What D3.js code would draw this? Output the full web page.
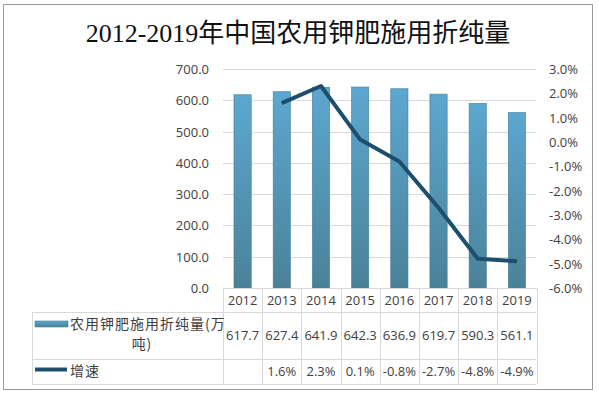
<!DOCTYPE html>
<html lang="zh">
<head>
    <meta charset="UTF-8">
    <title>2012-2019年中国农用钾肥施用折纯量</title>
    <script src="https://d3js.org/d3.v7.min.js"></script>
    <style>
        body {
            margin: 0;
            background-color: #fff;
        }
        .tick-label {
            font-family: "Open Sans", "Noto Sans", sans-serif;
            font-size: 13px;
            fill: #404040;
        }
        .cjk {
            font-family: "Noto Sans CJK SC", sans-serif;
            font-size: 14px;
            fill: #404040;
            letter-spacing: 1px;
        }
    </style>
</head>
<body>
    <div id="chart"></div>

    <script>
        const years = ['2012', '2013', '2014', '2015', '2016', '2017', '2018', '2019'];
        const amounts = [617.7, 627.4, 641.9, 642.3, 636.9, 619.7, 590.3, 561.1];
        const growth = [null, 0.016, 0.023, 0.001, -0.008, -0.027, -0.048, -0.049];
        const leftTicks = [0, 100, 200, 300, 400, 500, 600, 700];
        const rightTicks = [-0.06, -0.05, -0.04, -0.03, -0.02, -0.01, 0, 0.01, 0.02, 0.03];
        const barName = ['农用钾肥施用折纯量(万', '吨)'];
        const lineName = '增速';

        const width = 599, height = 394;
        const plotLeft = 223, plotRight = 536.5, plotTop = 69, plotBottom = 288;
        const tableLeft = 32;
        const rowLines = [312, 359, 384];
        const lineColor = '#1d4f6d';
        const gridColor = '#d9d9d9';

        // plain hyphen for negatives, like the original
        const locale = d3.formatLocale({ decimal: '.', thousands: ',', grouping: [3], currency: ['', ''], minus: '-' });
        const fmtNum = locale.format('.1f');
        const fmtPct = locale.format('.1%');

        const svg = d3.select('#chart').append('svg')
            .attr('width', width)
            .attr('height', height);

        const defs = svg.append('defs');
        const grad = defs.append('linearGradient')
            .attr('id', 'barGrad')
            .attr('x1', 0).attr('y1', 0).attr('x2', 0).attr('y2', 1);
        grad.append('stop').attr('offset', '0%').attr('stop-color', '#5ca7d0');
        grad.append('stop').attr('offset', '100%').attr('stop-color', '#4a8298');

        svg.append('rect')
            .attr('x', 3.5).attr('y', 4.5)
            .attr('width', 589).attr('height', 385)
            .attr('fill', '#fff')
            .attr('stroke', '#9a9a9a');

        // title
        const title = svg.append('text')
            .attr('x', 298)
            .attr('y', 42)
            .attr('text-anchor', 'middle')
            .attr('font-size', 26)
            .attr('fill', '#111');
        title.append('tspan')
            .attr('font-family', '"Liberation Serif", serif')
            .text('2012-2019');
        title.append('tspan')
            .attr('font-family', '"Noto Sans CJK SC", sans-serif')
            .text('年中国农用钾肥施用折纯量');

        const x = d3.scaleBand()
            .domain(years)
            .range([plotLeft, plotRight])
            .padding(0);

        const y = d3.scaleLinear()
            .domain([0, 700])
            .range([plotBottom, plotTop]);

        const y2 = d3.scaleLinear()
            .domain([-0.06, 0.03])
            .range([plotBottom, plotTop]);

        // gridlines
        svg.append('g')
            .selectAll('line')
            .data(leftTicks)
            .enter()
            .append('line')
            .attr('x1', plotLeft).attr('x2', plotRight)
            .attr('y1', d => Math.round(y(d)) + 0.5)
            .attr('y2', d => Math.round(y(d)) + 0.5)
            .attr('stroke', gridColor);

        // left axis
        const leftAxis = svg.append('g')
            .attr('transform', 'translate(209,0)')
            .call(d3.axisLeft(y).tickValues(leftTicks).tickFormat(fmtNum).tickSize(0).tickPadding(0));
        leftAxis.select('.domain').remove();
        leftAxis.selectAll('text')
            .attr('class', 'tick-label')
            .attr('dy', '0.35em');

        // right axis
        const rightAxis = svg.append('g')
            .attr('transform', 'translate(549,0)')
            .call(d3.axisRight(y2).tickValues(rightTicks).tickFormat(fmtPct).tickSize(0).tickPadding(0));
        rightAxis.select('.domain').remove();
        rightAxis.selectAll('text')
            .attr('class', 'tick-label')
            .attr('dy', '0.35em');

        // bars
        const bw = x.bandwidth() * 0.44;
        svg.append('g')
            .selectAll('rect')
            .data(amounts)
            .enter()
            .append('rect')
            .attr('x', (d, i) => x(years[i]) + (x.bandwidth() - bw) / 2)
            .attr('y', d => y(d))
            .attr('width', bw)
            .attr('height', d => plotBottom - y(d))
            .attr('fill', 'url(#barGrad)')
            .attr('stroke', '#467d95')
            .attr('stroke-width', 0.6);

        // growth line
        const line = d3.line()
            .defined(d => d !== null)
            .x((d, i) => x(years[i]) + x.bandwidth() / 2)
            .y(d => y2(d));

        svg.append('path')
            .datum(growth)
            .attr('d', line)
            .attr('fill', 'none')
            .attr('stroke', lineColor)
            .attr('stroke-width', 4)
            .attr('stroke-linejoin', 'round');

        // data table
        const table = svg.append('g')
            .attr('stroke', gridColor)
            .attr('stroke-width', 1);

        table.append('line')
            .attr('x1', plotLeft).attr('x2', plotRight)
            .attr('y1', plotBottom + 0.5).attr('y2', plotBottom + 0.5);

        table.selectAll('.row')
            .data(rowLines)
            .enter()
            .append('line')
            .attr('x1', tableLeft).attr('x2', plotRight)
            .attr('y1', d => d + 0.5).attr('y2', d => d + 0.5);

        const cols = years.map(d => x(d)).concat([plotRight]);
        table.selectAll('.col')
            .data(cols)
            .enter()
            .append('line')
            .attr('x1', d => Math.round(d) + 0.5).attr('x2', d => Math.round(d) + 0.5)
            .attr('y1', plotBottom).attr('y2', rowLines[2]);

        table.append('line')
            .attr('x1', tableLeft + 0.5).attr('x2', tableLeft + 0.5)
            .attr('y1', rowLines[0]).attr('y2', rowLines[2]);

        const cx = d => x(d) + x.bandwidth() / 2;

        svg.append('g')
            .selectAll('text')
            .data(years)
            .enter()
            .append('text')
            .attr('class', 'tick-label')
            .attr('x', cx)
            .attr('y', 305)
            .attr('text-anchor', 'middle')
            .text(d => d);

        svg.append('g')
            .selectAll('text')
            .data(amounts)
            .enter()
            .append('text')
            .attr('class', 'tick-label')
            .attr('x', (d, i) => cx(years[i]))
            .attr('y', 340)
            .attr('text-anchor', 'middle')
            .text(d => fmtNum(d));

        svg.append('g')
            .selectAll('text')
            .data(growth)
            .enter()
            .append('text')
            .attr('class', 'tick-label')
            .attr('x', (d, i) => cx(years[i]))
            .attr('y', 376)
            .attr('text-anchor', 'middle')
            .text(d => d === null ? '' : fmtPct(d));

        // legend keys in the table
        svg.append('rect')
            .attr('x', 35).attr('y', 321)
            .attr('width', 33).attr('height', 6)
            .attr('fill', 'url(#barGrad)')
            .attr('stroke', '#467d95')
            .attr('stroke-width', 0.6);

        svg.append('text')
            .attr('class', 'cjk')
            .attr('x', 70).attr('y', 329)
            .text(barName[0]);

        svg.append('text')
            .attr('class', 'cjk')
            .attr('x', 142).attr('y', 349)
            .attr('text-anchor', 'middle')
            .text(barName[1]);

        svg.append('line')
            .attr('x1', 35).attr('x2', 67)
            .attr('y1', 369.5).attr('y2', 369.5)
            .attr('stroke', lineColor)
            .attr('stroke-width', 4);

        svg.append('text')
            .attr('class', 'cjk')
            .attr('x', 70).attr('y', 376)
            .text(lineName);
    </script>
</body>
</html>
